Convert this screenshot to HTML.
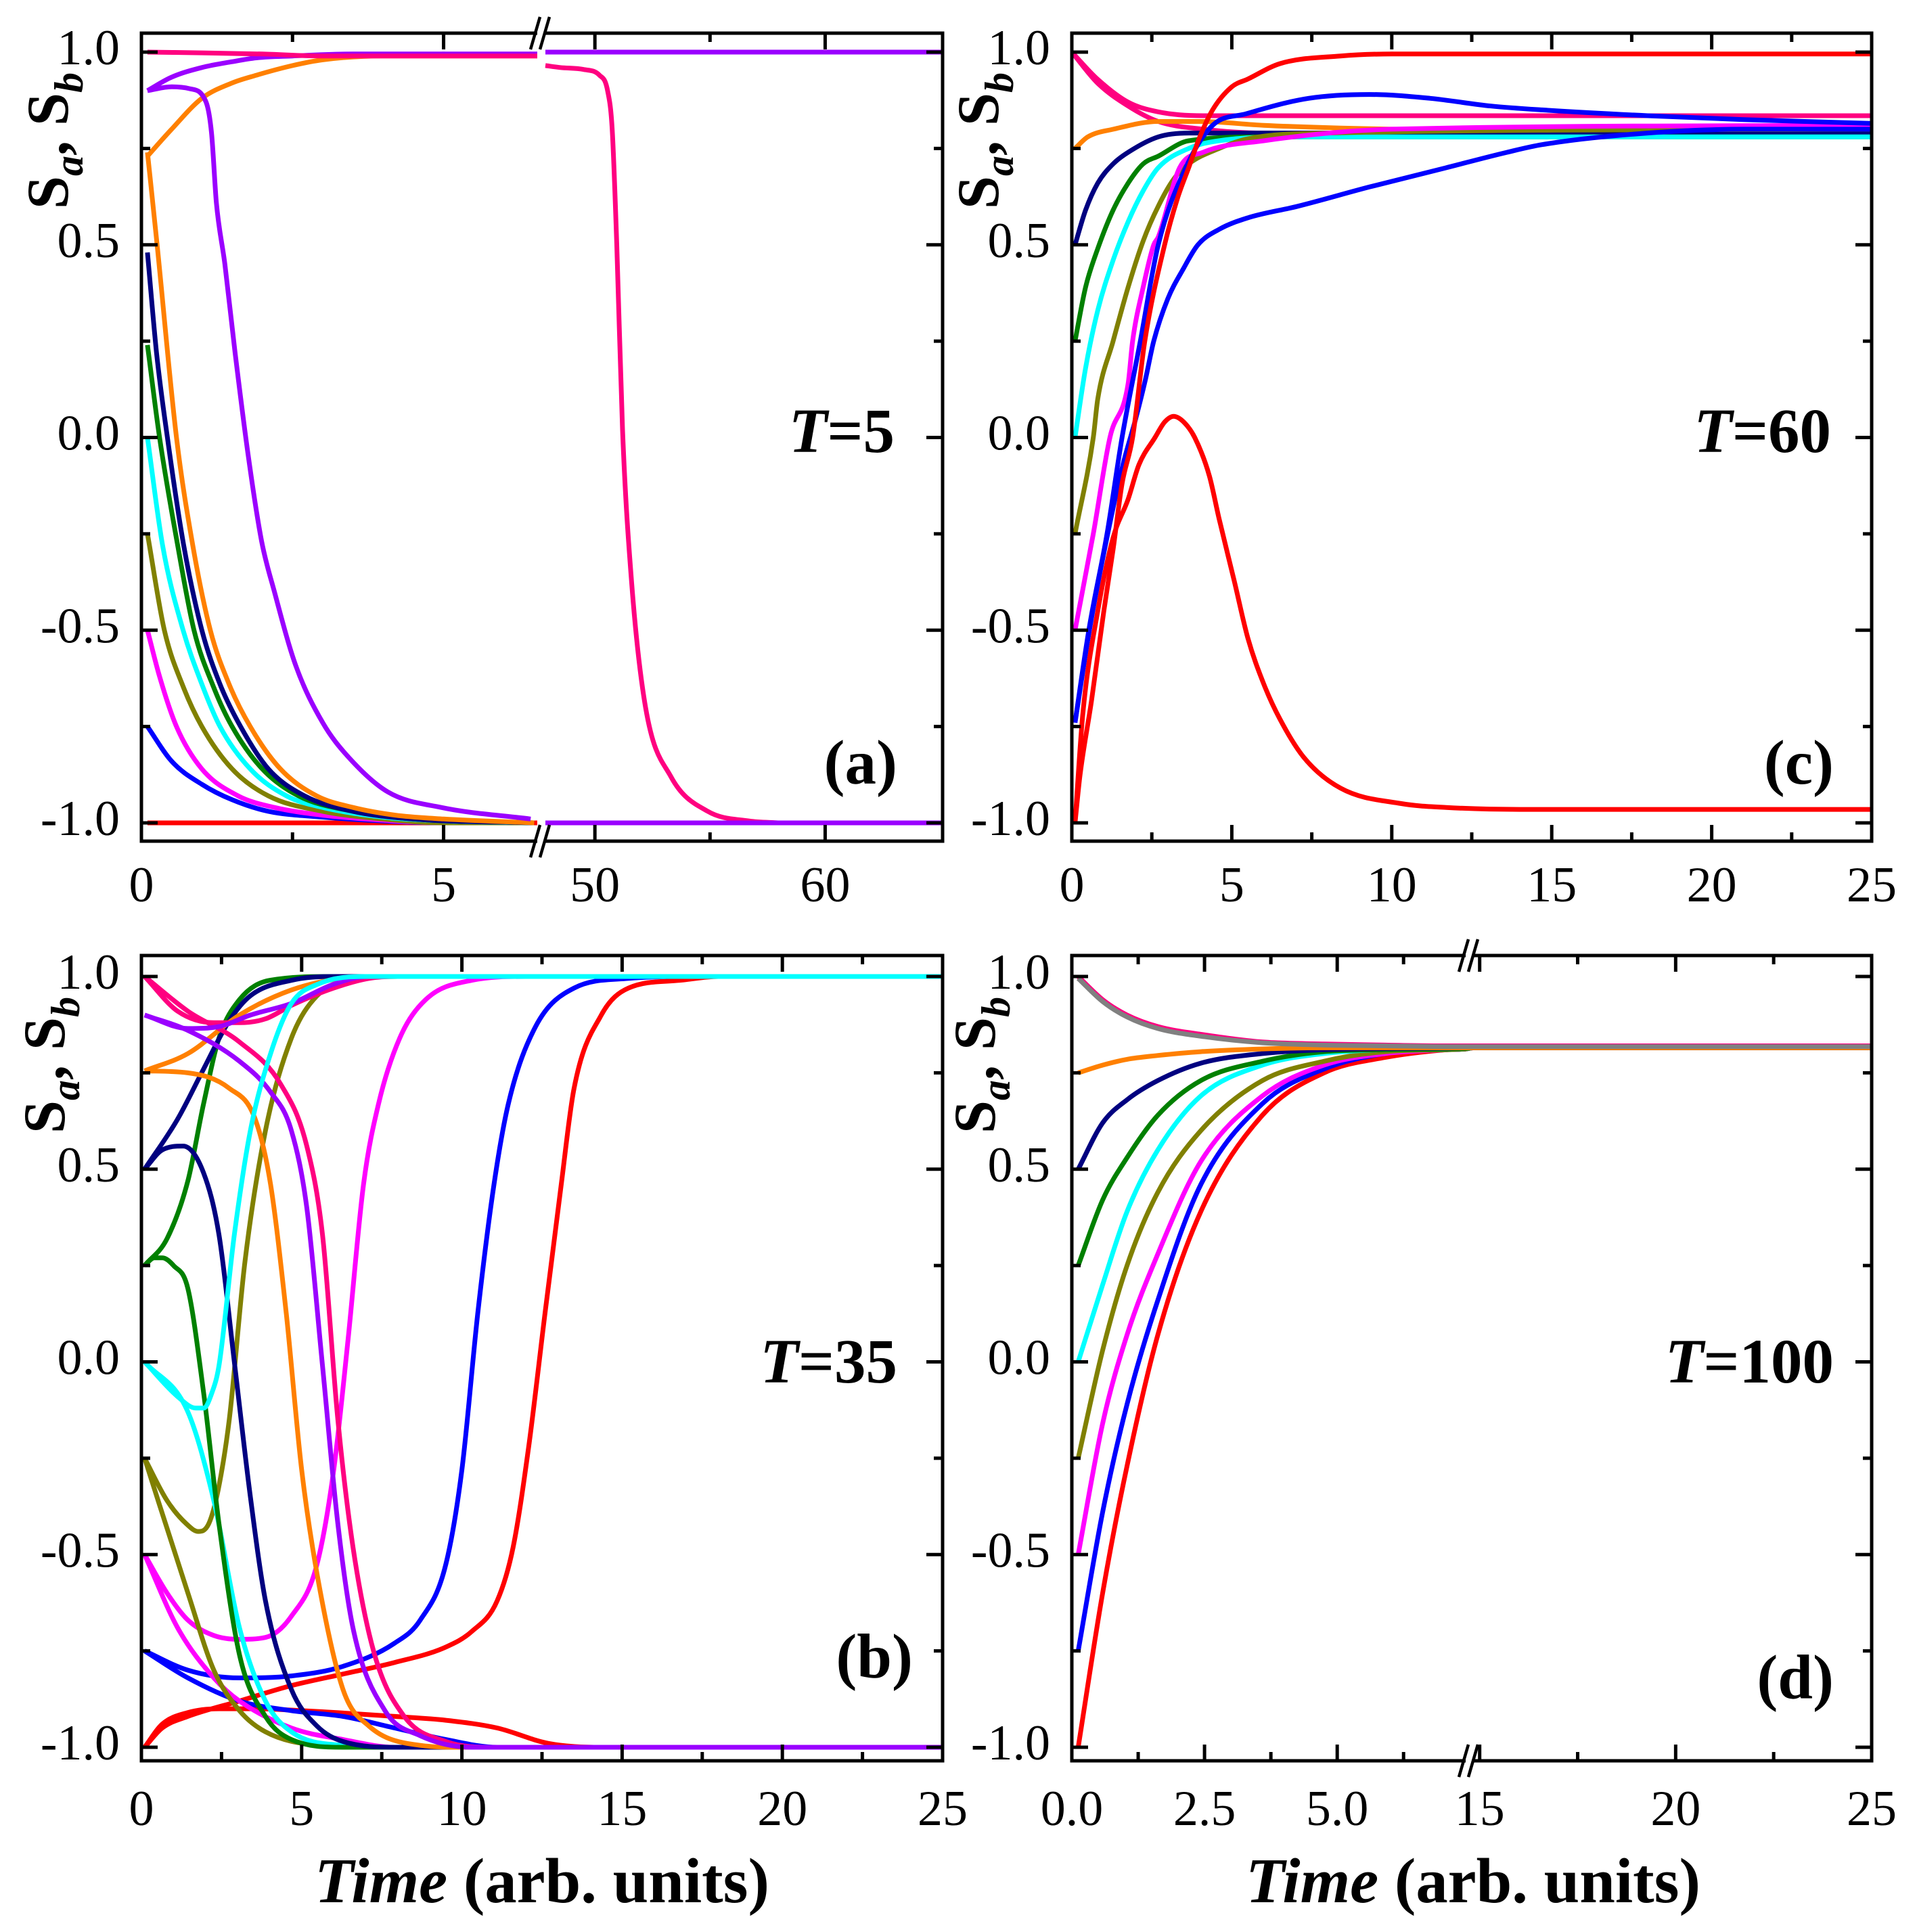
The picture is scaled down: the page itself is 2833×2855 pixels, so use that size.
<!DOCTYPE html>
<html><head><meta charset="utf-8"><title>Sa Sb relaxation</title>
<style>
html,body{margin:0;padding:0;background:#fff;}
svg{display:block;}
text{font-family:"Liberation Serif","DejaVu Serif",serif;fill:#000;}
</style></head>
<body>
<svg id="fig" xmlns="http://www.w3.org/2000/svg" width="2833" height="2855" viewBox="0 0 2833 2855">
<rect width="2833" height="2855" fill="#fff"/>
</svg>
<script>
// ---------- Panel (a) T=5 ----------
const aRedT=[0.1,6.55], aRedS=[-1,-1];
const aBlueT=[0.1,0.5,1.0,1.5,2.1,3,4,5,6.5], aBlueS=[-0.75,-0.84,-0.9,-0.94,-0.97,-0.985,-0.995,-1,-1];
const aMagT=[0.1,0.3,0.58,1.0,1.6,2.2,3,4,5,6.5], aMagS=[-0.5,-0.62,-0.75,-0.86,-0.93,-0.96,-0.98,-0.993,-1,-1];
const aOliveT=[0.1,0.38,0.7,1.0,1.5,2.1,3,4,5,6.5], aOliveS=[-0.25,-0.5,-0.65,-0.75,-0.86,-0.93,-0.97,-0.99,-1,-1];
const aCyanT=[0.1,0.35,0.69,1.0,1.3,1.8,2.4,3,4,5,6.5], aCyanS=[0,-0.28,-0.5,-0.64,-0.75,-0.86,-0.93,-0.96,-0.985,-0.995,-1];
const aGreenT=[0.1,0.3,0.6,0.87,1.2,1.5,2,2.6,3.5,4.5,6.5], aGreenS=[0.24,0,-0.28,-0.5,-0.65,-0.75,-0.86,-0.93,-0.97,-0.99,-1];
const aNavyT=[0.1,0.25,0.43,0.7,1.0,1.3,1.64,2.1,2.7,3.5,4.5,6.5], aNavyS=[0.48,0.22,0,-0.28,-0.5,-0.64,-0.75,-0.86,-0.93,-0.97,-0.99,-1];
const aOrDnT=[0.1,0.26,0.58,0.85,1.14,1.45,1.8,2.3,2.9,3.5,4.2,5,6.5], aOrDnS=[0.74,0.5,0,-0.28,-0.5,-0.64,-0.75,-0.86,-0.93,-0.96,-0.98,-0.99,-1];
const aOrUpT=[0.1,0.5,1,1.5,1.9,2.5,3,4,6.55], aOrUpS=[0.73,0.8,0.88,0.92,0.94,0.965,0.98,0.99,0.99];
const aPuUpT=[0.1,0.5,1,1.5,1.9,2.5,3.5,6.55], aPuUpS=[0.9,0.935,0.96,0.975,0.985,0.99,0.995,0.995];
const aPuDnT=[0.1,0.5,0.8,1.07,1.16,1.24,1.38,1.55,1.77,1.99,2.2,2.55,3.0,3.43,4.08,4.96,6.44], aPuDnS=[0.9,0.91,0.905,0.87,0.79,0.61,0.45,0.22,-0.05,-0.27,-0.4,-0.59,-0.74,-0.83,-0.92,-0.96,-0.99];
const aPinkT=[0.1,1,2,3,6.55], aPinkS=[1.0,0.998,0.995,0.99,0.99];
const aPinkDropT=[47.85,48.5,49.5,50.2,50.55,50.75,50.95,51.2,51.6,52.2,53.3,54.9,56.7,58], aPinkDropS=[0.965,0.96,0.955,0.94,0.9,0.8,0.5,0.02,-0.38,-0.7,-0.88,-0.97,-0.995,-1];
const aPuTopT=[47.85,65.1], aPuTopS=[1,1];
const aPuBotT=[47.85,65.1], aPuBotS=[-1,-1];

// ---------- Panel (c) T=60 ----------
const cRedPeakT=[0.1,0.34,0.81,1.29,1.76,2.1,2.6,2.9,3.18,3.5,3.84,4.3,4.6,5.07,5.5,6.0,6.5,7.25,8.4,10.3,11.7,14,25];
const cRedPeakS=[-1,-0.72,-0.45,-0.26,-0.16,-0.07,0,0.04,0.055,0.04,0,-0.1,-0.21,-0.37,-0.52,-0.64,-0.73,-0.83,-0.91,-0.95,-0.96,-0.965,-0.965];
const cRedUpT=[0.1,0.25,0.62,1.0,1.29,1.57,1.9,2.28,2.9,3.3,3.65,4.0,4.4,5.0,5.5,6.5,8.4,10,25];
const cRedUpS=[-1,-0.88,-0.68,-0.45,-0.29,-0.12,0,0.25,0.5,0.62,0.7,0.78,0.85,0.91,0.93,0.97,0.99,0.995,0.995];
const cPinkAT=[0,0.8,1.76,2.7,4.1,6,10,25], cPinkAS=[1,0.93,0.87,0.845,0.835,0.835,0.835,0.835];
const cPinkBT=[0,0.8,1.76,2.7,4.1,6,10,25], cPinkBS=[1,0.92,0.86,0.82,0.8,0.79,0.79,0.79];
const cBlueUpT=[0.1,0.53,1.1,1.57,2.14,2.7,3.56,4.4,5.45,7.4,9.3,11.2,13.1,14.7,18,21,25];
const cBlueUpS=[-0.74,-0.5,-0.25,0,0.25,0.5,0.7,0.81,0.84,0.88,0.89,0.88,0.86,0.85,0.835,0.825,0.815];
const cBlueLowT=[0.1,0.55,1.12,1.6,2.0,2.3,2.56,3.0,3.5,3.94,4.6,5.5,7.06,9.3,11.7,13.6,14.7,18,21,25];
const cBlueLowS=[-0.74,-0.5,-0.25,-0.07,0.05,0.15,0.25,0.36,0.44,0.5,0.54,0.57,0.6,0.65,0.7,0.74,0.76,0.79,0.8,0.8];
const cMagT=[0.1,0.67,1.19,1.76,1.9,2.23,2.56,2.7,3.37,4.1,6,10,25], cMagS=[-0.5,-0.25,0,0.14,0.25,0.39,0.5,0.52,0.7,0.74,0.77,0.8,0.81];
const cOliveT=[0.1,0.67,0.81,1.29,1.76,2.23,2.7,3.18,3.65,4.6,5.5,8,25], cOliveS=[-0.25,0,0.1,0.25,0.39,0.51,0.6,0.67,0.71,0.75,0.775,0.79,0.8];
const cCyanT=[0.1,0.43,0.81,1.29,1.76,2.23,2.7,3.65,4.6,7,25], cCyanS=[0,0.18,0.33,0.46,0.56,0.64,0.7,0.75,0.77,0.78,0.78];
const cGreenT=[0.1,0.43,0.81,1.29,1.76,2.23,2.7,3.65,6,25], cGreenS=[0.25,0.39,0.49,0.59,0.66,0.71,0.73,0.77,0.78,0.78];
const cNavyT=[0.1,0.43,0.81,1.29,1.76,2.7,3.65,6,25], cNavyS=[0.5,0.59,0.66,0.71,0.74,0.78,0.79,0.79,0.79];
const cOrangeT=[0.1,0.5,1.3,2.7,4,6,10,25], cOrangeS=[0.75,0.78,0.8,0.82,0.82,0.81,0.8,0.79];

// ---------- Panel (b) T=35 ----------
const bRedAT=[0.1,0.65,1.45,3.06,4.68,6.29,7.9,9.5,10.3,11.1,11.6,12.1,12.6,13.1,13.5,14.35,15.2,16.8,18,25];
const bRedAS=[-1,-0.95,-0.92,-0.88,-0.84,-0.81,-0.78,-0.74,-0.7,-0.62,-0.48,-0.21,0.13,0.46,0.71,0.9,0.97,0.99,1,1];
const bRedBT=[0.1,0.65,1.45,2.42,3.5,5,7.9,9.5,11.1,12.7,14.35,16,25], bRedBS=[-1,-0.94,-0.91,-0.9,-0.9,-0.905,-0.92,-0.93,-0.95,-0.99,-1,-1,-1];
const bBlueAT=[0.1,1.45,3.06,4.68,6.29,7.9,8.7,9.5,10,10.5,11,11.45,12.3,13.5,15.2,17,25];
const bBlueAS=[-0.75,-0.8,-0.82,-0.815,-0.79,-0.73,-0.67,-0.525,-0.28,0.13,0.46,0.67,0.87,0.97,0.995,1,1];
const bBlueBT=[0.1,1.45,3.06,4.68,6.29,7.9,9.5,11.1,13,25], bBlueBS=[-0.75,-0.82,-0.88,-0.905,-0.92,-0.95,-0.98,-1,-1,-1];
const bMagAT=[0.1,0.8,1.45,2.26,3.06,3.87,4.68,5.48,6.0,6.45,6.93,7.4,8.06,8.87,10.3,12,25];
const bMagAS=[-0.5,-0.6,-0.67,-0.71,-0.72,-0.715,-0.66,-0.525,-0.28,0.06,0.46,0.67,0.84,0.94,0.99,1,1];
const bMagBT=[0.1,1.13,2.26,3.06,4.68,6.29,7.9,10,25], bMagBS=[-0.5,-0.69,-0.82,-0.88,-0.95,-0.98,-1,-1,-1];
const bOliveAT=[0.1,0.8,1.4,1.77,2.1,2.4,2.74,3.23,3.87,4.68,5.48,6.6,8,25], bOliveAS=[-0.25,-0.36,-0.42,-0.44,-0.42,-0.33,-0.15,0.26,0.6,0.84,0.95,0.99,1,1];
const bOliveBT=[0.1,1.45,2.26,3.06,3.87,5.48,7,25], bOliveBS=[-0.25,-0.6,-0.8,-0.905,-0.96,-0.995,-1,-1];
const bCyanAT=[0.1,1.13,1.7,1.94,2.2,2.42,2.9,3.4,4.03,4.68,5.5,7,25], bCyanAS=[0,-0.09,-0.12,-0.12,-0.08,-0.01,0.33,0.6,0.8,0.93,0.98,1,1];
const bCyanBT=[0.1,1.45,2.26,3.06,3.87,4.68,6.29,8,25], bCyanBS=[0,-0.13,-0.36,-0.69,-0.88,-0.96,-0.995,-1,-1];
const bGreenAT=[0.1,0.8,1.45,1.94,2.42,3.06,4,6,25], bGreenAS=[0.25,0.32,0.47,0.67,0.84,0.94,0.99,1,1];
const bGreenBT=[0.1,0.4,0.65,1.0,1.45,1.94,2.42,3.06,3.87,4.68,6.29,8,25], bGreenBS=[0.25,0.27,0.27,0.25,0.19,-0.08,-0.42,-0.76,-0.92,-0.98,-1,-1,-1];
const bNavyAT=[0.1,1.13,1.94,2.74,3.4,4.68,6,25], bNavyAS=[0.5,0.63,0.76,0.885,0.95,0.99,1,1];
const bNavyBT=[0.1,0.65,1.3,1.94,2.42,2.9,3.4,3.87,4.68,5.48,6.29,8,25], bNavyBS=[0.5,0.55,0.56,0.49,0.33,0,-0.35,-0.62,-0.85,-0.945,-0.985,-1,-1];
const bOrAT=[0.1,1.45,3.06,4.68,6.29,8,25], bOrAS=[0.755,0.8,0.9,0.965,0.995,1,1];
const bOrBT=[0.1,1.45,2.74,3.55,4.03,4.52,5.0,5.48,6.29,7.1,8.7,10,25], bOrBS=[0.755,0.75,0.71,0.63,0.46,0.125,-0.28,-0.55,-0.85,-0.945,-0.995,-1,-1];
const bPuAT=[0.1,1.45,2.42,3.4,4.68,6,7.1,8,25], bPuAS=[0.9,0.865,0.87,0.9,0.93,0.98,1,1,1];
const bPuBT=[0.1,1.45,3.06,4.03,4.68,5.16,5.65,6.13,6.6,7.6,8.7,10.3,25], bPuBS=[0.9,0.86,0.78,0.7,0.6,0.4,-0.01,-0.42,-0.69,-0.905,-0.97,-1,-1];
const bPinkAT=[0.1,1.13,2.26,3.06,3.87,4.68,6,7.1,8,25], bPinkAS=[1,0.91,0.88,0.88,0.89,0.925,0.97,0.995,1,1];
const bPinkBT=[0.1,1.45,3.06,4.35,5.16,5.65,6.13,6.6,7.26,8.2,9.5,11,25], bPinkBS=[1,0.91,0.83,0.72,0.56,0.33,-0.15,-0.48,-0.755,-0.92,-0.985,-1,-1];

// ---------- Panel (d) T=100 ----------
const dT=[0.12,0.58,1.04,1.62,2.43,3.59,4.75,5.9,7.06,7.42,14.85,25];
const dRedS=[-1,-0.6,-0.27,0.07,0.39,0.64,0.75,0.79,0.81,0.812,0.815,0.815];
const dBlueS=[-0.75,-0.39,-0.11,0.16,0.46,0.67,0.76,0.8,0.81,0.812,0.815,0.815];
const dMagS=[-0.5,-0.16,0.07,0.28,0.52,0.69,0.77,0.8,0.81,0.812,0.815,0.815];
const dOliveS=[-0.25,0.03,0.25,0.44,0.6,0.73,0.78,0.805,0.81,0.812,0.815,0.815];
const dCyanS=[0,0.2,0.39,0.55,0.69,0.77,0.8,0.81,0.812,0.813,0.815,0.815];
const dGreenS=[0.25,0.42,0.53,0.64,0.73,0.78,0.805,0.81,0.812,0.813,0.815,0.815];
const dNavyS=[0.5,0.62,0.68,0.73,0.775,0.8,0.81,0.813,0.814,0.815,0.815,0.815];
const dOrangeS=[0.75,0.77,0.785,0.795,0.805,0.812,0.815,0.815,0.815,0.815,0.815,0.815];
const dPinkS=[1.0,0.94,0.9,0.87,0.85,0.83,0.825,0.822,0.82,0.82,0.82,0.82];
const dGrayS=[0.995,0.935,0.895,0.865,0.845,0.828,0.822,0.82,0.818,0.818,0.818,0.818];

// tick arrays
const yTicks=[-1,-0.5,0,0.5,1], yTickLabels=["-1.0","-0.5","0.0","0.5","1.0"], yMinor=[-0.75,-0.25,0.25,0.75];
const aXTicks=[0,5,50,60], aXLabels=["0","5","50","60"], aXMinor=[2.5,55];
const cXTicks=[0,5,10,15,20,25], cXLabels=["0","5","10","15","20","25"], cXMinor=[2.5,7.5,12.5,17.5,22.5];
const dXTicks=[0,2.5,5,15,20,25], dXLabels=["0.0","2.5","5.0","15","20","25"], dXMinor=[1.25,3.75,6.25,17.5,22.5];

const NS="http://www.w3.org/2000/svg";
const svg=document.getElementById('fig');
function mk(tag,attrs,parent){const e=document.createElementNS(NS,tag);for(const k in attrs)e.setAttribute(k,attrs[k]);(parent||svg).appendChild(e);return e;}

function makePanel(L,R,top,bot,y1,segs){
  return {L,R,top,bot,
    y:s=>y1+(1-s)*569.5,
    x:t=>{for(const g of segs){if(t>=g.d0-1e-9&&t<=g.d1+1e-9)return g.p0+(t-g.d0)*(g.p1-g.p0)/(g.d1-g.d0);}return null;},
    segs};
}
const PA=makePanel(209,1393,49,1243,77,[{d0:0,d1:6.55,p0:209,p1:794},{d0:47.85,d1:65.1,p0:806,p1:1393}]);
const PC=makePanel(1584,2766,49,1243,77,[{d0:0,d1:25,p0:1584,p1:2766}]);
const PB=makePanel(209,1393,1412,2602,1443,[{d0:0,d1:25,p0:209,p1:1393}]);
const PD=makePanel(1584,2766,1412,2602,1443,[{d0:0,d1:7.42,p0:1584,p1:2166},{d0:14.85,d1:25,p0:2178,p1:2766}]);

// monotone cubic path through pixel points (drawing only; does not alter values)
function monoPath(pts){
  const n=pts.length; if(n<2)return "";
  let d="M"+pts[0][0].toFixed(1)+" "+pts[0][1].toFixed(1);
  if(n===2)return d+"L"+pts[1][0].toFixed(1)+" "+pts[1][1].toFixed(1);
  const dx=[],m=[];
  for(let i=0;i<n-1;i++){dx.push(pts[i+1][0]-pts[i][0]);m.push((pts[i+1][1]-pts[i][1])/(dx[i]||1e-6));}
  const tg=[m[0]];
  for(let i=1;i<n-1;i++){ if(m[i-1]*m[i]<=0)tg.push(0); else tg.push((m[i-1]+m[i])/2);}
  tg.push(m[n-2]);
  for(let i=0;i<n-1;i++){
    if(m[i]===0){tg[i]=0;tg[i+1]=0;continue;}
    const a=tg[i]/m[i],b=tg[i+1]/m[i],h=a*a+b*b;
    if(h>9){const s=3/Math.sqrt(h);tg[i]=s*a*m[i];tg[i+1]=s*b*m[i];}
  }
  for(let i=0;i<n-1;i++){
    const h=dx[i]/3;
    d+="C"+(pts[i][0]+h).toFixed(1)+" "+(pts[i][1]+tg[i]*h).toFixed(1)+" "+(pts[i+1][0]-h).toFixed(1)+" "+(pts[i+1][1]-tg[i+1]*h).toFixed(1)+" "+pts[i+1][0].toFixed(1)+" "+pts[i+1][1].toFixed(1);
  }
  return d;
}

function series(P,g,T,S,color,name){
  const runs=[];let cur=[];
  for(let i=0;i<T.length;i++){
    const x=P.x(T[i]);
    if(x===null){if(cur.length)runs.push(cur);cur=[];continue;}
    cur.push([x,P.y(S[i])]);
  }
  if(cur.length)runs.push(cur);
  const d=runs.map(monoPath).join(" ");
  const p=mk('path',{d:d,fill:'none',stroke:color,'stroke-width':7,'stroke-linejoin':'round','stroke-linecap':'butt'},g);
  
  
}

function axes(P,g,xt,xl,xm,labelY){
  for(const s of yTicks){const y=P.y(s);
    mk('line',{x1:P.L,x2:P.L+24,y1:y,y2:y,stroke:'#000','stroke-width':5},g);
    mk('line',{x1:P.R,x2:P.R-24,y1:y,y2:y,stroke:'#000','stroke-width':5},g);}
  for(const s of yMinor){const y=P.y(s);
    mk('line',{x1:P.L,x2:P.L+13,y1:y,y2:y,stroke:'#000','stroke-width':5},g);
    mk('line',{x1:P.R,x2:P.R-13,y1:y,y2:y,stroke:'#000','stroke-width':5},g);}
  for(const t of xt){const x=P.x(t);
    mk('line',{x1:x,x2:x,y1:P.bot,y2:P.bot-24,stroke:'#000','stroke-width':5},g);
    mk('line',{x1:x,x2:x,y1:P.top,y2:P.top+24,stroke:'#000','stroke-width':5},g);}
  for(const t of xm){const x=P.x(t);
    mk('line',{x1:x,x2:x,y1:P.bot,y2:P.bot-13,stroke:'#000','stroke-width':5},g);
    mk('line',{x1:x,x2:x,y1:P.top,y2:P.top+13,stroke:'#000','stroke-width':5},g);}
  const fr=mk('rect',{x:P.L,y:P.top,width:P.R-P.L,height:P.bot-P.top,fill:'none',stroke:'#000','stroke-width':5},g);
  
  
  yTicks.forEach((s,i)=>{const t=mk('text',{x:P.L-32,y:P.y(s)+18,'text-anchor':'end','font-size':74},g);t.textContent=yTickLabels[i];
    
    });
  xt.forEach((v,i)=>{const t=mk('text',{x:P.x(v),y:labelY,'text-anchor':'middle','font-size':74},g);t.textContent=xl[i];
    
    });
}
function breakMark(x,ytop,ybot,g){
  for(const y of [ytop,ybot]){
    mk('rect',{x:x-6,y:y-4,width:12,height:8,fill:'#fff'},g);
    mk('line',{x1:x-16,y1:y+24,x2:x-2,y2:y-24,stroke:'#000','stroke-width':4.5},g);
    mk('line',{x1:x-2,y1:y+24,x2:x+12,y2:y-24,stroke:'#000','stroke-width':4.5},g);
  }
}
function ytitle(x,y,g){
  const t=mk('text',{transform:`translate(${x},${y}) rotate(-90)`,'text-anchor':'middle','font-size':88,'font-weight':'bold'},g);
  
  
  t.innerHTML='S<tspan font-style="italic" font-size="60" dy="22">a</tspan><tspan dy="-22">, S</tspan><tspan font-style="italic" font-size="60" dy="22">b</tspan>';
}
function label(txt,x,y,g,name,italicT){
  const t=mk('text',{x:x,y:y,'text-anchor':'end','font-size':93,'font-weight':'bold'},g);
  
  
  if(italicT){t.innerHTML='<tspan font-style="italic">T</tspan>'+txt;}else t.textContent=txt;
}
function xtitle(cx,y,g){
  const t=mk('text',{x:cx,y:y,'text-anchor':'middle','font-size':94,'font-weight':'bold',textLength:672,lengthAdjust:'spacingAndGlyphs'},g);
  
  
  t.innerHTML='<tspan font-style="italic">Time</tspan> (arb. units)';
}

const C={red:'#ff0000',blue:'#0000ff',mag:'#ff00ff',olive:'#808000',cyan:'#00ffff',green:'#008000',navy:'#000080',orange:'#ff8000',purple:'#9a00ff',pink:'#ff0080',gray:'#808080'};

// Panel a
const gA=mk('g',{});  
series(PA,gA,aRedT,aRedS,C.red,'a-red-line');
series(PA,gA,aBlueT,aBlueS,C.blue,'a-blue-line');
series(PA,gA,aMagT,aMagS,C.mag,'a-magenta-line');
series(PA,gA,aOliveT,aOliveS,C.olive,'a-olive-line');
series(PA,gA,aCyanT,aCyanS,C.cyan,'a-cyan-line');
series(PA,gA,aGreenT,aGreenS,C.green,'a-green-line');
series(PA,gA,aNavyT,aNavyS,C.navy,'a-navy-line');
series(PA,gA,aOrDnT,aOrDnS,C.orange,'a-orange-down-line');
series(PA,gA,aOrUpT,aOrUpS,C.orange,'a-orange-up-line');
series(PA,gA,aPuUpT,aPuUpS,C.purple,'a-purple-up-line');
series(PA,gA,aPuDnT,aPuDnS,C.purple,'a-purple-down-line');
series(PA,gA,aPinkT,aPinkS,C.pink,'a-pink-line');
series(PA,gA,aPinkDropT,aPinkDropS,C.pink,'a-pink-drop-line');
series(PA,gA,aPuTopT,aPuTopS,C.purple,'a-purple-top-line');
series(PA,gA,aPuBotT,aPuBotS,C.purple,'a-purple-bottom-line');
axes(PA,gA,aXTicks,aXLabels,aXMinor,1332);
breakMark(800,PA.top,PA.bot,gA);
ytitle(100,208,gA);
label('=5',1322,668,gA,'temperature-label-a',true);
label('(a)',1326,1158,gA,'panel-label-a',false);

// Panel c
const gC=mk('g',{});  
series(PC,gC,cPinkAT,cPinkAS,C.pink,'c-pink-a-line');
series(PC,gC,cPinkBT,cPinkBS,C.pink,'c-pink-b-line');
series(PC,gC,cOrangeT,cOrangeS,C.orange,'c-orange-line');
series(PC,gC,cNavyT,cNavyS,C.navy,'c-navy-line');
series(PC,gC,cGreenT,cGreenS,C.green,'c-green-line');
series(PC,gC,cCyanT,cCyanS,C.cyan,'c-cyan-line');
series(PC,gC,cOliveT,cOliveS,C.olive,'c-olive-line');
series(PC,gC,cMagT,cMagS,C.mag,'c-magenta-line');
series(PC,gC,cBlueLowT,cBlueLowS,C.blue,'c-blue-low-line');
series(PC,gC,cBlueUpT,cBlueUpS,C.blue,'c-blue-up-line');
series(PC,gC,cRedUpT,cRedUpS,C.red,'c-red-up-line');
series(PC,gC,cRedPeakT,cRedPeakS,C.red,'c-red-peak-line');
axes(PC,gC,cXTicks,cXLabels,cXMinor,1332);
ytitle(1475,208,gC);
label('=60',2706,668,gC,'temperature-label-c',true);
label('(c)',2710,1158,gC,'panel-label-c',false);

// Panel b
const gB=mk('g',{});  
series(PB,gB,bRedBT,bRedBS,C.red,'b-red-b-line');
series(PB,gB,bRedAT,bRedAS,C.red,'b-red-a-line');
series(PB,gB,bBlueBT,bBlueBS,C.blue,'b-blue-b-line');
series(PB,gB,bBlueAT,bBlueAS,C.blue,'b-blue-a-line');
series(PB,gB,bMagBT,bMagBS,C.mag,'b-magenta-b-line');
series(PB,gB,bMagAT,bMagAS,C.mag,'b-magenta-a-line');
series(PB,gB,bOliveBT,bOliveBS,C.olive,'b-olive-b-line');
series(PB,gB,bOliveAT,bOliveAS,C.olive,'b-olive-a-line');
series(PB,gB,bCyanBT,bCyanBS,C.cyan,'b-cyan-b-line');
series(PB,gB,bGreenBT,bGreenBS,C.green,'b-green-b-line');
series(PB,gB,bGreenAT,bGreenAS,C.green,'b-green-a-line');
series(PB,gB,bNavyBT,bNavyBS,C.navy,'b-navy-b-line');
series(PB,gB,bNavyAT,bNavyAS,C.navy,'b-navy-a-line');
series(PB,gB,bOrBT,bOrBS,C.orange,'b-orange-b-line');
series(PB,gB,bOrAT,bOrAS,C.orange,'b-orange-a-line');
series(PB,gB,bPinkAT,bPinkAS,C.pink,'b-pink-a-line');
series(PB,gB,bPinkBT,bPinkBS,C.pink,'b-pink-b-line');
series(PB,gB,bPuAT,bPuAS,C.purple,'b-purple-a-line');
series(PB,gB,bPuBT,bPuBS,C.purple,'b-purple-b-line');
series(PB,gB,bCyanAT,bCyanAS,C.cyan,'b-cyan-a-line');
axes(PB,gB,cXTicks,cXLabels,cXMinor,2697);
ytitle(95,1574,gB);
label('=35',1326,2043,gB,'temperature-label-b',true);
label('(b)',1349,2479,gB,'panel-label-b',false);
xtitle(801,2811,gB);

// Panel d
const gD=mk('g',{});  
series(PD,gD,dT,dRedS,C.red,'d-red-line');
series(PD,gD,dT,dBlueS,C.blue,'d-blue-line');
series(PD,gD,dT,dMagS,C.mag,'d-magenta-line');
series(PD,gD,dT,dOliveS,C.olive,'d-olive-line');
series(PD,gD,dT,dCyanS,C.cyan,'d-cyan-line');
series(PD,gD,dT,dGreenS,C.green,'d-green-line');
series(PD,gD,dT,dNavyS,C.navy,'d-navy-line');
series(PD,gD,dT,dOrangeS,C.orange,'d-orange-line');
series(PD,gD,dT,dPinkS,C.pink,'d-pink-line');
series(PD,gD,dT,dGrayS,C.gray,'d-gray-line');
axes(PD,gD,dXTicks,dXLabels,dXMinor,2697);
breakMark(2172,PD.top,PD.bot,gD);
ytitle(1470,1574,gD);
label('=100',2710,2043,gD,'temperature-label-d',true);
label('(d)',2710,2510,gD,'panel-label-d',false);
xtitle(2177,2811,gD);
</script>
</body></html>
